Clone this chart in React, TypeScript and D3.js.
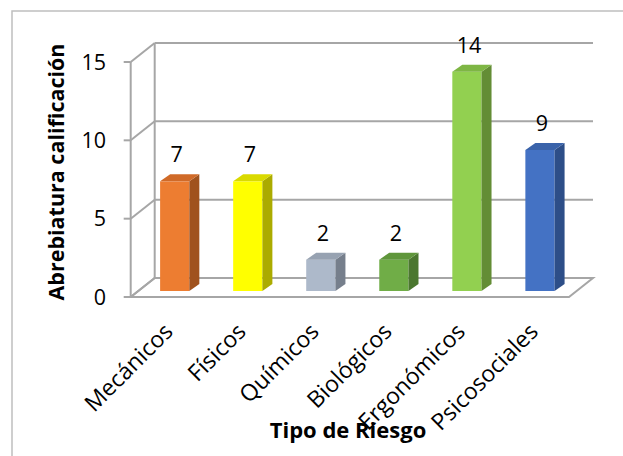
import React from "react";
import * as d3 from "d3";

const categories = ["Mecánicos", "Físicos", "Químicos", "Biológicos", "Ergonómicos", "Psicosociales"];
const values = [7, 7, 2, 2, 14, 9];
const yTicks = [0, 5, 10, 15];
const frontColors = ["#ED7D31", "#FFFF00", "#ADB9CA", "#70AD47", "#92D050", "#4472C4"];
const topColors = ["#D06A28", "#DADA00", "#97A2B1", "#5F963B", "#7EB644", "#3A63AA"];
const sideColors = ["#A0521D", "#ABAB00", "#767F8C", "#4B772F", "#638D35", "#2D4E88"];

const W = 623;
const H = 456;
const FONT = "'Open Sans', 'DejaVu Sans', sans-serif";

// Plot geometry: front plane and depth offset to the back wall
const x0 = 130.7;
const x1 = 569;
const yBottom = 297;
const yTop = 62;
const depthX = 24;
const depthY = -19;
// Bars sit a little behind the front plane and have their own depth
const barShiftX = 7.5;
const barShiftY = -6;
const barDX = 10;
const barDY = -7;

export default function App() {
  const x = d3.scaleBand<string>().domain(categories).range([x0, x1]).padding(0);
  const y = d3.scaleLinear().domain([0, 15]).range([yBottom, yTop]);
  const barW = x.bandwidth() * 0.4;
  const grid = "#A6A6A6";

  return (
    <svg
      width={W}
      height={H}
      style={{ position: "absolute", left: 0, top: 0, background: "#fff" }}
      fontFamily={FONT}
    >
      {/* outer frame */}
      <path d={`M12,${H + 2} L12,11 L${W + 2},11`} fill="none" stroke="#BFBFBF" strokeWidth={1.5} />

      {/* floor */}
      <path
        d={`M${x0},${yBottom} L${x1},${yBottom} L${x1 + depthX},${yBottom + depthY} L${x0 + depthX},${yBottom + depthY} Z`}
        fill="none"
        stroke={grid}
        strokeWidth={2}
      />

      {/* back wall gridlines and side wall diagonals */}
      {yTicks.map((t) => (
        <g key={t}>
          <line x1={x0 + depthX} x2={x1 + depthX} y1={y(t) + depthY} y2={y(t) + depthY} stroke={grid} strokeWidth={2} />
          <line x1={x0} x2={x0 + depthX} y1={y(t)} y2={y(t) + depthY} stroke={grid} strokeWidth={2} />
          <line x1={x0 - 7} x2={x0} y1={y(t)} y2={y(t)} stroke={grid} strokeWidth={2} />
          <text x={106} y={y(t)} dy="0.36em" textAnchor="end" fontSize={21.5} fill="#000">
            {t}
          </text>
        </g>
      ))}
      {/* back wall left edge and front value axis */}
      <line x1={x0 + depthX} x2={x0 + depthX} y1={y(15) + depthY} y2={y(0) + depthY} stroke={grid} strokeWidth={2} />
      <line x1={x0} x2={x0} y1={y(15)} y2={y(0)} stroke={grid} strokeWidth={2} />

      {/* bars */}
      {categories.map((c, i) => {
        const cx = (x(c) as number) + x.bandwidth() / 2 + barShiftX;
        const l = cx - barW / 2;
        const r = cx + barW / 2;
        const b = y(0) + barShiftY;
        const t = y(values[i]) + barShiftY;
        return (
          <g key={c}>
            <rect x={l} y={t} width={barW} height={b - t} fill={frontColors[i]} />
            <path d={`M${r},${t} L${r + barDX},${t + barDY} L${r + barDX},${b + barDY} L${r},${b} Z`} fill={sideColors[i]} />
            <path d={`M${l},${t} L${l + barDX},${t + barDY} L${r + barDX},${t + barDY} L${r},${t} Z`} fill={topColors[i]} />
            <text x={cx + 2} y={t - 19} textAnchor="middle" fontSize={21.5} fill="#000">
              {values[i]}
            </text>
          </g>
        );
      })}

      {/* category labels */}
      {categories.map((c) => {
        const ax = (x(c) as number) + x.bandwidth() / 2 + 7;
        const ay = 333;
        return (
          <text
            key={c}
            transform={`translate(${ax},${ay}) rotate(-45)`}
            textAnchor="end"
            fontSize={23}
            fill="#000"
          >
            {c}
          </text>
        );
      })}

      {/* axis titles */}
      <text x={348} y={438} textAnchor="middle" fontSize={22} fontWeight="bold" fill="#000">
        Tipo de Riesgo
      </text>
      <text
        transform={`translate(64,172) rotate(-90)`}
        textAnchor="middle"
        fontSize={21.5}
        fontWeight="bold"
        fill="#000"
      >
        Abrebiatura calificación
      </text>
    </svg>
  );
}
